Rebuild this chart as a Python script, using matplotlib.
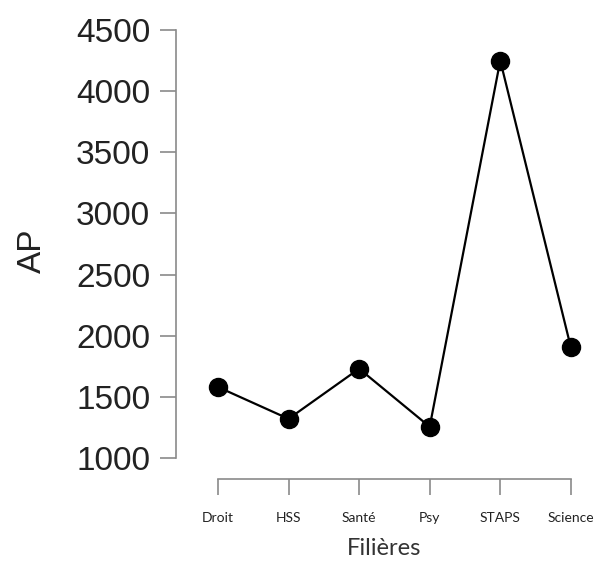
import numpy as np
import matplotlib.pyplot as plt

filieres = ['Droit', 'HSS', 'Santé', 'Psy', 'STAPS', 'Science']
ap = [1580, 1320, 1730, 1255, 4250, 1905]
y_ticks = [1000, 1500, 2000, 2500, 3000, 3500, 4000, 4500]

fig = plt.figure(figsize=(6.03, 5.68), dpi=100)
ax = fig.add_axes([176 / 603, 1 - 479 / 568, (592 - 176) / 603, (479 - 22) / 568])

x = np.arange(len(filieres))
ax.plot(x, ap, color='black', lw=1.6, marker='o', ms=13, zorder=3)

ax.set_xlim(-0.595, 5.3)
ax.set_ylim(828, 4565)

for s in ['top', 'right']:
    ax.spines[s].set_visible(False)
ax.spines['left'].set_bounds(1000, 4500)
ax.spines['bottom'].set_bounds(0, 5)
for s in ['left', 'bottom']:
    ax.spines[s].set_color('#8a8a8a')
    ax.spines[s].set_linewidth(1.2)

ax.set_yticks(y_ticks)
ax.set_yticklabels([str(v) for v in y_ticks], fontfamily='Liberation Sans', fontsize=24, color='#222222')
ax.set_xticks(x)
ax.set_xticklabels(filieres, fontfamily='Lato', fontsize=10, color='#222222')
ax.tick_params(axis='y', length=11.5, width=1.2, color='#8a8a8a', pad=7)
ax.tick_params(axis='x', length=11.5, width=1.2, color='#8a8a8a', pad=12)

ax.set_ylabel('AP', fontfamily='Liberation Sans', fontsize=24, color='#222222', labelpad=20)
ax.set_xlabel('Filières', fontfamily='Lato', fontsize=17, color='#333333', labelpad=10)

fig.savefig('out.png', dpi=100)
